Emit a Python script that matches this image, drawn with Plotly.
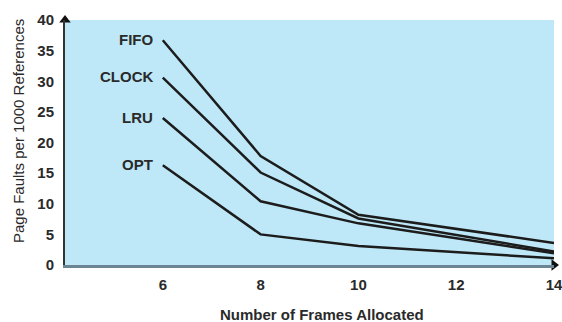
import plotly.graph_objects as go

# Page-replacement algorithms: page faults per 1000 references vs frames allocated
frames = [6, 8, 10, 14]
fifo = [36.7, 17.8, 8.2, 3.6]
clock = [30.6, 15.1, 7.6, 2.2]
lru = [24.0, 10.4, 6.8, 1.9]
opt = [16.3, 5.0, 3.1, 1.1]

series = [("FIFO", fifo), ("CLOCK", clock), ("LRU", lru), ("OPT", opt)]
x_ticks = [6, 8, 10, 12, 14]
y_ticks = [0, 5, 10, 15, 20, 25, 30, 35, 40]

font_family = "Liberation Sans, Arial, sans-serif"
line_color = "#1c1c1c"
text_color = "#2a2a2a"

fig = go.Figure()
for name, vals in series:
    fig.add_trace(go.Scatter(
        x=frames, y=vals, mode="lines", name=name,
        line=dict(color=line_color, width=2.5),
        showlegend=False, hoverinfo="skip",
    ))
    # algorithm name to the left of the first point
    fig.add_annotation(
        x=frames[0], y=vals[0], text=f"<b>{name}</b>",
        xanchor="right", yanchor="middle", xshift=-8, yshift=1,
        showarrow=False,
        font=dict(family=font_family, size=15, color=text_color),
    )

# arrowheads at the ends of both axes
fig.add_trace(go.Scatter(
    x=[4], y=[40], mode="markers", cliponaxis=False,
    marker=dict(symbol="triangle-up", size=10, color="#111111"),
    showlegend=False, hoverinfo="skip",
))
fig.add_trace(go.Scatter(
    x=[14], y=[0], mode="markers", cliponaxis=False,
    marker=dict(symbol="triangle-right", size=10, color="#111111"),
    showlegend=False, hoverinfo="skip",
))

# axis titles
fig.add_annotation(
    xref="paper", yref="paper", x=0.526, y=-0.2,
    text="<b>Number of Frames Allocated</b>", showarrow=False,
    xanchor="center", yanchor="middle",
    font=dict(family=font_family, size=15, color=text_color),
)
fig.add_annotation(
    xref="paper", yref="paper", x=-0.094, y=0.547,
    text="Page Faults per 1000 References", showarrow=False,
    textangle=-90, xanchor="center", yanchor="middle",
    font=dict(family=font_family, size=15, color=text_color),
)

fig.update_layout(
    width=562, height=322,
    margin=dict(l=65, r=8, t=20, b=57, autoexpand=False),
    paper_bgcolor="white",
    plot_bgcolor="#bee8f7",
    font=dict(family=font_family, color=text_color),
)
fig.update_xaxes(
    range=[4, 14], tickvals=x_ticks, ticktext=[str(v) for v in x_ticks],
    showgrid=False, zeroline=False, automargin=False,
    showline=True, linecolor="#6c8594", linewidth=3,
    ticks="", ticklabelstandoff=4, ticklabeloverflow="allow",
    tickfont=dict(size=15, weight="bold", family=font_family),
)
fig.update_yaxes(
    range=[0, 40], tickvals=y_ticks, ticktext=[str(v) for v in y_ticks],
    showgrid=False, zeroline=False, automargin=False,
    showline=True, linecolor="#333333", linewidth=2,
    ticks="", ticklabelstandoff=6,
    tickfont=dict(size=15, weight="bold", family=font_family),
)

fig.write_html("out.html")
